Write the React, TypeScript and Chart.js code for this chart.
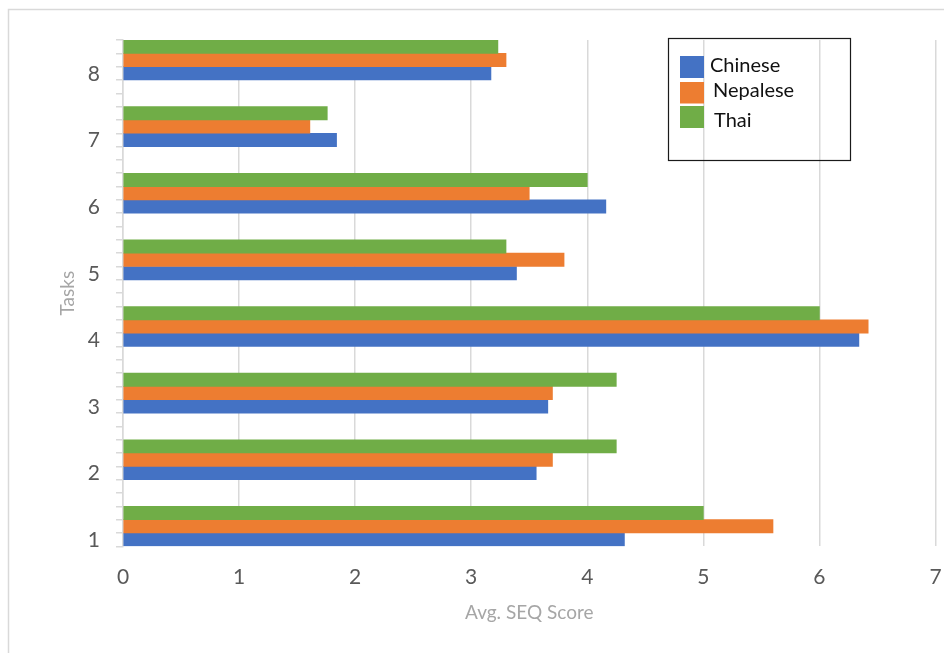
import React, { useEffect, useRef } from "react";
import { Chart, registerables } from "chart.js";

Chart.register(...registerables);

// ---- data ----
const tasks = [1, 2, 3, 4, 5, 6, 7, 8];
const chinese = [4.32, 3.56, 3.66, 6.34, 3.39, 4.16, 1.84, 3.17];
const nepalese = [5.6, 3.7, 3.7, 6.42, 3.8, 3.5, 1.61, 3.3];
const thai = [5.0, 4.25, 4.25, 6.0, 3.3, 4.0, 1.76, 3.23];
const seriesNames = ["Chinese", "Nepalese", "Thai"];
const seriesColors = ["#4472C4", "#ED7D31", "#70AD47"];
const xTickValues = [0, 1, 2, 3, 4, 5, 6, 7];
const xTitle = "Avg. SEQ Score";
const yTitle = "Tasks";

const FONT = "Lato, 'Open Sans', sans-serif";

const frameAndLegend = {
  id: "frameAndLegend",
  beforeDraw(chart: any) {
    const ctx = chart.ctx;
    ctx.save();
    ctx.strokeStyle = "#d9d9d9";
    ctx.lineWidth = 1.5;
    ctx.strokeRect(8.5, 9.5, 2000, 2000);
    ctx.restore();
  },
  afterDraw(chart: any) {
    const ctx = chart.ctx;
    ctx.save();
    // legend box
    ctx.strokeStyle = "#1a1a1a";
    ctx.lineWidth = 1.2;
    ctx.strokeRect(668.5, 38.5, 182, 122);
    const swTop = [56, 82, 106];
    const swH = [22, 21.5, 22];
    const txX = [710, 713, 714];
    const txBase = [71.7, 97.3, 127.3];
    ctx.font = `20px ${FONT}`;
    ctx.textBaseline = "alphabetic";
    ctx.textAlign = "left";
    chart.data.datasets.forEach((ds: any, i: number) => {
      ctx.fillStyle = ds.backgroundColor;
      ctx.fillRect(680, swTop[i], 24, swH[i]);
      ctx.fillStyle = "#111";
      ctx.fillText(ds.label, txX[i], txBase[i]);
    });
    ctx.restore();
  },
};

export default function App() {
  const ref = useRef<HTMLCanvasElement | null>(null);

  useEffect(() => {
    if (!ref.current) return;
    const values = [chinese, nepalese, thai];
    const orders = [2, 1, 0];
    const chart = new Chart(ref.current, {
      type: "bar",
      data: {
        datasets: seriesNames.map((name, i) => ({
          label: name,
          data: tasks.map((t, j) => ({ x: values[i][j], y: t })),
          backgroundColor: seriesColors[i],
          borderWidth: 0,
          order: orders[i],
          barThickness: 13.32,
        })),
      },
      options: {
        indexAxis: "y",
        animation: false,
        responsive: false,
        layout: { padding: { top: 40, right: 8.5, left: 0, bottom: 0 } },
        plugins: {
          legend: { display: false },
          tooltip: { enabled: false },
        },
        scales: {
          x: {
            type: "linear",
            min: 0,
            max: 7,
            offset: false,
            afterBuildTicks: (s: any) => {
              s.ticks = xTickValues.map((v) => ({ value: v }));
            },
            afterFit: (s: any) => {
              s.height = 653 - 546.3;
              s.paddingLeft = 0;
              s.paddingRight = 0;
            },
            ticks: {
              color: "#595959",
              font: { family: FONT, size: 21 },
              padding: 18,
              maxRotation: 0,
            },
            grid: { color: "#d9d9d9", lineWidth: 1.5, drawTicks: false, offset: false },
            border: { display: false },
            title: {
              display: true,
              text: xTitle,
              color: "#a6a6a6",
              font: { family: FONT, size: 19 },
              padding: { top: 0, bottom: 28.6 },
            },
          },
          y: {
            type: "linear",
            min: 0.7,
            max: 8.3,
            offset: false,
            afterBuildTicks: (s: any) => {
              const t: any[] = [];
              for (let i = 0; i <= 38; i++) t.push({ value: Math.round((0.7 + i * 0.2) * 10) / 10 });
              s.ticks = t;
            },
            afterFit: (s: any) => {
              s.width = 123;
              s.paddingTop = 0;
              s.paddingBottom = 0;
            },
            ticks: {
              autoSkip: false,
              color: "#595959",
              font: { family: FONT, size: 21 },
              padding: 16,
              labelOffset: -6,
              callback: (v: any) => {
                const t = tasks.find((k) => Math.abs(k - 0.3 - Number(v)) < 1e-6);
                return t === undefined ? "" : String(t);
              },
            },
            grid: { drawOnChartArea: false, drawTicks: true, tickLength: 7, color: "#d9d9d9", lineWidth: 1.5, offset: false },
            border: { display: true, color: "#d9d9d9", width: 1.5 },
            title: {
              display: true,
              text: yTitle,
              color: "#a6a6a6",
              font: { family: FONT, size: 19 },
              padding: { top: 56.6, bottom: 0 },
            },
          },
        },
      },
      plugins: [frameAndLegend],
    } as any);
    return () => chart.destroy();
  }, []);

  return (
    <div style={{ position: "fixed", left: 0, top: 0, width: 944, height: 653, overflow: "hidden", background: "#fff" }}>
      <canvas ref={ref} width={944} height={653} style={{ display: "block", width: 944, height: 653 }} />
    </div>
  );
}
